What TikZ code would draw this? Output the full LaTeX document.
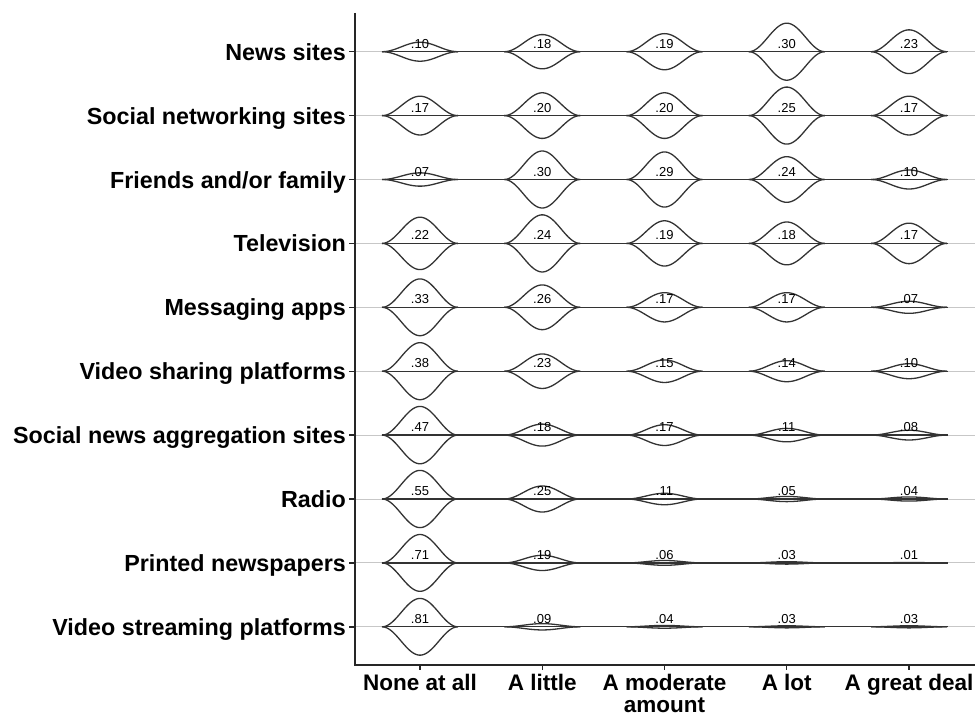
\documentclass[tikz,border=0pt]{standalone}
\usepackage{fontspec}
\setmainfont{Liberation Sans}
\begin{document}
\begin{tikzpicture}[x=1pt,y=-1pt,
  declare function={bp(\d)=(abs(\d)<38)*(1+cos(180*\d/38))/2;},
  curve/.style={line width=1.3pt, draw=black!80, line join=round},
  gridline/.style={line width=0.9pt, draw=black!22},
  axisline/.style={line width=1.4pt, draw=black!85},
  ylab/.style={font=\bfseries\fontsize{23.3}{24}\selectfont, anchor=base east, inner sep=0pt},
  xlab/.style={font=\bfseries\fontsize{22.5}{22}\selectfont, anchor=north, inner sep=0pt, align=center},
  val/.style={font=\fontsize{13}{13}\selectfont, anchor=base, inner sep=0pt}]
\useasboundingbox (0,0) rectangle (980,717);
\foreach \lab/\k/\vals [count=\i] in {
  {News sites}/95/{0.10/.10,0.18/.18,0.19/.19,0.30/.30,0.23/.23},
  {Social networking sites}/114/{0.17/.17,0.20/.20,0.20/.20,0.25/.25,0.17/.17},
  {Friends and/or family}/95/{0.07/.07,0.30/.30,0.29/.29,0.24/.24,0.10/.10},
  {Television}/119/{0.22/.22,0.24/.24,0.19/.19,0.18/.18,0.17/.17},
  {Messaging apps}/86/{0.33/.33,0.26/.26,0.17/.17,0.17/.17,0.07/.07},
  {Video sharing platforms}/75/{0.38/.38,0.23/.23,0.15/.15,0.14/.14,0.10/.10},
  {Social news aggregation sites}/61/{0.47/.47,0.18/.18,0.17/.17,0.11/.11,0.08/.08},
  {Radio}/52/{0.55/.55,0.25/.25,0.11/.11,0.05/.05,0.04/.04},
  {Printed newspapers}/40/{0.71/.71,0.19/.19,0.06/.06,0.03/.03,0.01/.01},
  {Video streaming platforms}/35/{0.81/.81,0.09/.09,0.04/.04,0.03/.03,0.03/.03}} {
  \pgfmathsetmacro\ry{51.7+63.9*(\i-1)}
  \draw[gridline] (355,\ry) -- (975,\ry);
  \draw[axisline] (349,\ry) -- (355,\ry);
  \node[ylab] (lab\i) at (346,\ry+8.5) {\lab};
  \draw[curve] (382,\ry) -- (948,\ry);
  \foreach \v/\t [count=\j] in \vals {
    \pgfmathsetmacro\cx{420+122.25*(\j-1)}
    \draw[curve] plot[domain=-38:38, samples=77] ({\cx+\x},{\ry-\k*\v*bp(\x)});
    \draw[curve] plot[domain=-38:38, samples=77] ({\cx+\x},{\ry+\k*\v*bp(\x)});
    \node[val] (v\i-\j) at (\cx,\ry-3.5) {\t};
  }
}
\draw[axisline] (355,13) -- (355,665) -- (975,665);
\foreach \t [count=\j] in {None at all, A little, {A moderate\\amount}, A lot, A great deal} {
  \pgfmathsetmacro\cx{420+122.25*(\j-1)}
  \draw[axisline] (\cx,665) -- (\cx,670);
  \node[xlab] (x\j) at (\cx,674) {\t};
}
\end{tikzpicture}
\end{document}
